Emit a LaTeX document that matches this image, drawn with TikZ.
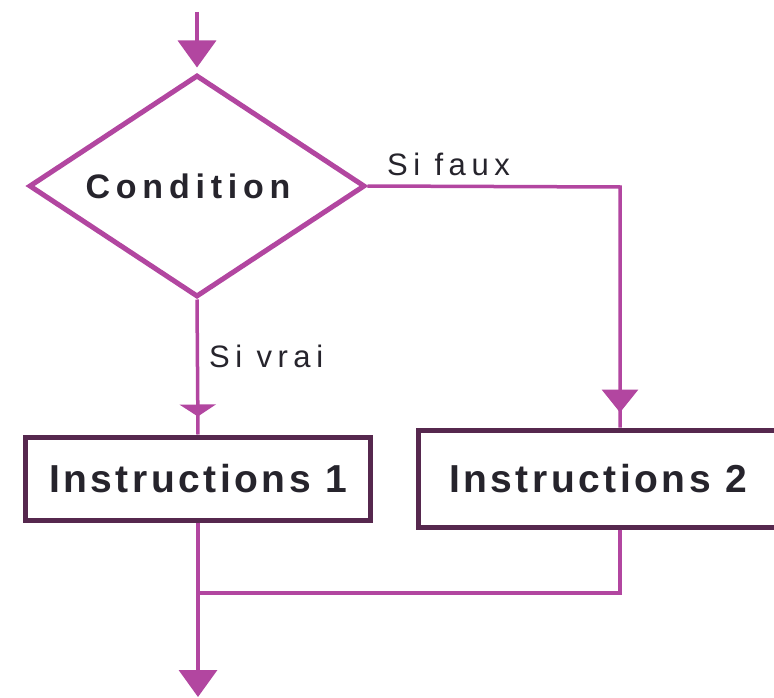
\documentclass[tikz,border=0pt]{standalone}
\usepackage{fontspec}
\setmainfont{Liberation Sans}
\newfontfamily\condfont[LetterSpace=17]{Liberation Sans}
\newfontfamily\branchfont[LetterSpace=18]{Liberation Sans}
\newfontfamily\instrfont[LetterSpace=9]{Liberation Sans}
\usetikzlibrary{shapes.geometric,arrows.meta,decorations.markings}
\definecolor{flowline}{RGB}{178,70,160}
\definecolor{boxedge}{RGB}{86,40,78}
\definecolor{ink}{RGB}{38,36,44}

\tikzset{
  flow/.style={draw=flowline, line width=3.5pt},
  bigtip/.style={-{Triangle[width=38pt,length=27pt]}},
  midtip/.style 2 args={postaction={decorate},
    decoration={markings, mark=at position #1 with
      {\arrow[flowline]{Triangle[width=36pt,length=#2]}}}},
  decision/.style={diamond, draw=flowline, line width=5pt, fill=white,
    minimum width=336pt, minimum height=222pt, inner sep=0pt,
    text=ink, font=\condfont\bfseries\fontsize{34}{38}\selectfont},
  action/.style={rectangle, draw=boxedge, line width=5pt, fill=white,
    inner sep=0pt, text=ink, font=\instrfont\bfseries\fontsize{39}{44}\selectfont},
  branch/.style={inner sep=0pt, anchor=west, text=ink,
    font=\branchfont\fontsize{31}{35}\selectfont}
}

\begin{document}
\begin{tikzpicture}[x=1pt,y=-1pt]
  \useasboundingbox[fill=white] (0,0) rectangle (774,698);

  % decision and the two branches
  \node[decision] (cond) at (197,186) {\hspace*{-18pt}Condition};
  \node[action, minimum width=345pt, minimum height=83pt] (yes) at (198,478.5) {Instructions 1};
  \node[action, minimum width=360pt, minimum height=97pt] (no) at (598,478.5) {Instructions 2};

  % free ends and bends of the connectors
  \coordinate (src) at (197,12);
  \coordinate (turn) at (620,187);
  \coordinate (join) at (198,593);
  \coordinate (sink) at (198,697);

  % entry
  \draw[flow, bigtip, shorten >=5pt] (src) -- (cond.north);

  % true branch
  \draw[flow, midtip={-18pt}{12pt}] (cond.south) -- (yes.north);
  \node[branch] (vrai) at (209,356) {Si vrai};

  % false branch
  \draw[flow, midtip={-15pt}{23pt}] (cond.east) -- (turn) -- (turn |- no.north);
  \node[branch] (faux) at (387,164) {Si faux};

  % merge and exit
  \draw[flow] (turn |- no.south) |- (join);
  \draw[flow, bigtip] (yes.south) -- (sink);
\end{tikzpicture}
\end{document}
